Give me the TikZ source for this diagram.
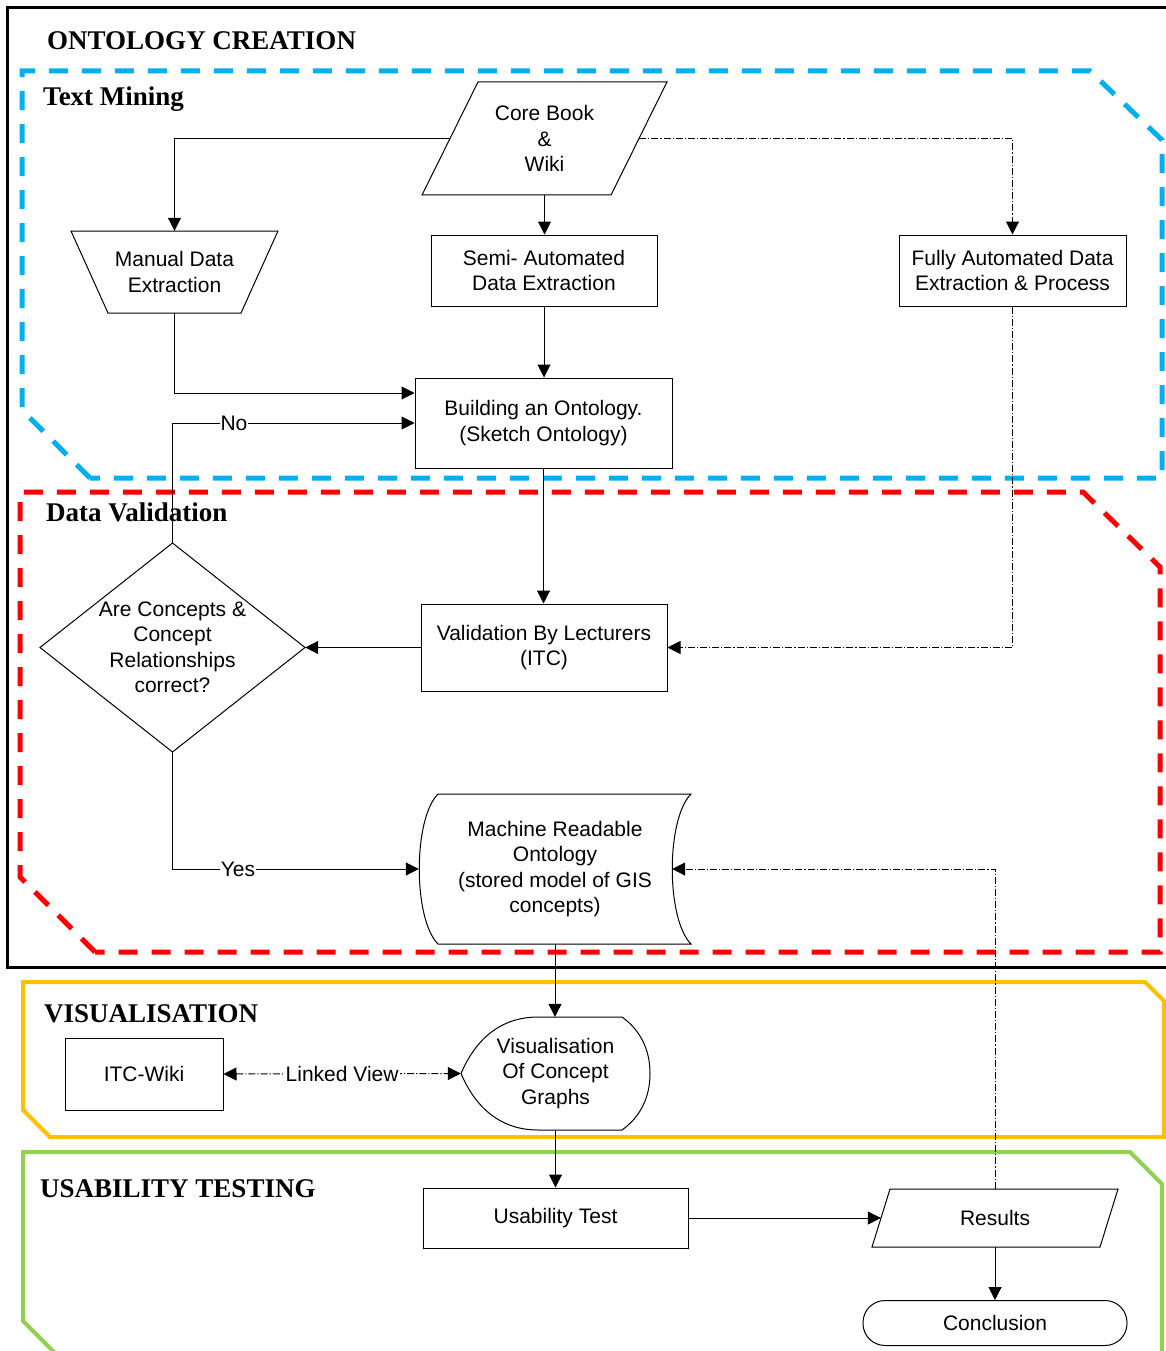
\documentclass[tikz,border=0pt]{standalone}
\usepackage{fontspec}
\setmainfont{Liberation Serif}
\setsansfont{Liberation Sans}
\usetikzlibrary{arrows.meta,calc}

\definecolor{cblue}{HTML}{00B0F0}
\definecolor{cred}{HTML}{FF0000}
\definecolor{corange}{HTML}{FFC000}
\definecolor{cgreen}{HTML}{92D050}

\begin{document}
\begin{tikzpicture}[x=1pt,y=-1pt,
  lbl/.style={font=\sffamily\fontsize{21}{25.5}\selectfont, align=center, inner sep=0pt},
  box/.style={lbl, draw, line width=1pt, rectangle},
  outline/.style={draw, line width=1pt, line join=miter},
  title/.style={font=\rmfamily\bfseries\fontsize{27}{30}\selectfont, anchor=base west, inner sep=0pt},
  conn/.style={line width=1pt},
  tip/.tip={Triangle[length=13pt,width=13pt]},
  arr/.style={conn, -tip},
  dd/.style={dash pattern=on 7pt off 2pt on 1.2pt off 2pt},
  onlbl/.style={fill=white, font=\sffamily\fontsize{21}{25}\selectfont, inner sep=1pt},
  group/.style={line width=5pt, dash pattern=on 19pt off 14pt},
  solidgroup/.style={line width=4pt}
]
\useasboundingbox (0,0) rectangle (1165,1351);
\fill[white] (0,0) rectangle (1165,1351);

% ---- phase frames ----
\draw[line width=3pt] (7,8) rectangle (1180,967);
\draw[cblue, group] (90,478) -- (22,410) -- (22,71) -- (1090,71) -- (1162,140) -- (1162,478) -- cycle;
\draw[cred, group] (95,952) -- (20,877) -- (20,492) -- (1083,492) -- (1160,567) -- (1160,952) -- cycle;
\draw[corange, solidgroup] (50,1137) -- (23,1110) -- (23,982) -- (1145,982) -- (1164,1001) -- (1164,1137) -- cycle;
\draw[cgreen, solidgroup] (58,1356) -- (23,1321) -- (23,1152) -- (1130,1152) -- (1162,1184) -- (1162,1360);

% ---- titles ----
\node[title] (tOnt) at (47,50) {ONTOLOGY CREATION};
\node[title] (tTM)  at (43,106) {Text Mining};
\node[title] (tDV)  at (46,521) {Data Validation};
\node[title] (tVis) at (44,1022) {VISUALISATION};
\node[title] (tUT)  at (40,1197) {USABILITY TESTING};

% ---- nodes ----
\node[lbl, minimum width=245, minimum height=113] (core) at (544.5,138.5) {Core Book\\\&\\Wiki};
\node[lbl, minimum width=207, minimum height=82] (man) at (174.5,272) {Manual Data\\Extraction};
\node[box, minimum width=226, minimum height=71] (semi) at (544,270.5) {Semi- Automated\\Data Extraction};
\node[box, minimum width=227, minimum height=71] (fully) at (1012.5,270.5) {Fully Automated Data\\Extraction \& Process};
\node[box, minimum width=257, minimum height=90] (build) at (543.5,423) {Building an Ontology.\\(Sketch Ontology)};
\node[box, minimum width=246, minimum height=87] (valid) at (544,647.5) {Validation By Lecturers\\(ITC)};
\node[lbl, minimum width=265, minimum height=209] (dia) at (172.5,647.5) {Are Concepts \&\\Concept\\Relationships\\correct?};
\node[lbl, minimum width=272, minimum height=150] (mro) at (555,869) {Machine Readable\\Ontology\\(stored model of GIS\\concepts)};
\node[lbl, minimum width=189, minimum height=113] (vis) at (555.5,1073.5) {Visualisation\\Of Concept\\Graphs};
\node[box, minimum width=158, minimum height=72] (itc) at (144,1074) {ITC-Wiki};
\node[box, minimum width=265, minimum height=60] (usab) at (555.5,1218) {Usability Test};
\node[lbl, minimum width=246, minimum height=58] (res) at (995,1218) {Results};
\node[box, rounded corners=22pt, minimum width=264, minimum height=45] (concl) at (995,1323) {Conclusion};

% ---- outlines of the non-rectangular symbols ----
\begin{scope}[shift={(core.center)}]
  \draw[outline] (-66.5,-56.5) -- (122.5,-56.5) -- (66.5,56.5) -- (-122.5,56.5) -- cycle;
\end{scope}
\begin{scope}[shift={(man.center)}]
  \draw[outline] (-103.5,-41) -- (103.5,-41) -- (66.5,41) -- (-66.5,41) -- cycle;
\end{scope}
\begin{scope}[shift={(dia.center)}]
  \draw[outline] (0,-104.5) -- (132.5,0) -- (0,104.5) -- (-132.5,0) -- cycle;
\end{scope}
\begin{scope}[shift={(mro.center)}]
  \draw[outline] (-117,-75) .. controls (-142,-50) and (-142,50) .. (-117,75)
    -- (136,75) .. controls (111,50) and (111,-50) .. (136,-75) -- cycle;
\end{scope}
\begin{scope}[shift={(vis.center)}]
  \draw[outline] (-94.5,0) .. controls (-80,-34) and (-55,-56.5) .. (-17.5,-56.5)
    -- (66.5,-56.5) .. controls (84,-44) and (94.5,-25) .. (94.5,0)
    .. controls (94.5,25) and (84,44) .. (66.5,56.5)
    -- (-17.5,56.5) .. controls (-55,56.5) and (-80,34) .. (-94.5,0) -- cycle;
\end{scope}
\begin{scope}[shift={(res.center)}]
  \draw[outline] (-105,-29) -- (123,-29) -- (105,29) -- (-123,29) -- cycle;
\end{scope}

% ---- connectors ----
\draw[arr] ($(core.west)+(28,0)$) -| (man.north);
\draw[arr] (core.south) -- (core.south |- semi.north);
\draw[arr,dd] ($(core.east)+(-28,0)$) -| (fully.north);
\draw[arr] (man.south) |- ($(build.west)+(0,-30)$);
\draw[arr] (semi.south) -- (semi.south |- build.north);
\draw[arr] (dia.north) |- node[onlbl, pos=0.627] {No} (build.west);
\draw[arr] (build.south) -- (build.south |- valid.north);
\draw[arr,dd] (fully.south) |- (valid.east);
\draw[arr] (valid.west) -- (dia.east);
\draw[arr] (dia.south) |- node[onlbl, pos=0.633] {Yes} (mro.west);
\draw[arr,dd] (res.north) |- ($(mro.east)+(-19,0)$);
\draw[arr] (mro.south) -- (mro.south |- vis.north);
\draw[conn,dd,tip-tip] (itc.east) -- node[onlbl] {Linked View} (vis.west);
\draw[arr] (vis.south) -- (vis.south |- usab.north);
\draw[arr] (usab.east) -- ($(res.west)+(9,0)$);
\draw[arr] (res.south) -- (concl.north);
\end{tikzpicture}
\end{document}
